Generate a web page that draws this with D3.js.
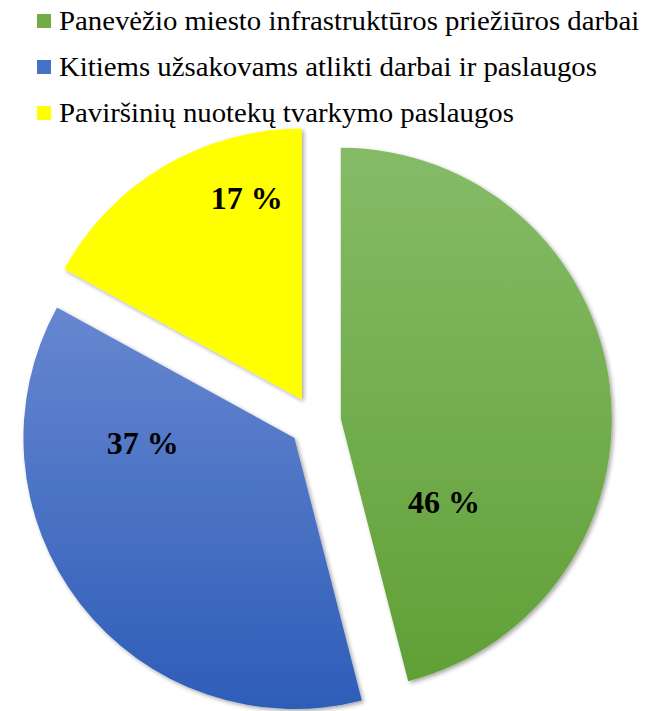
<!DOCTYPE html>
<html><head><meta charset="utf-8">
<script src="https://cdn.jsdelivr.net/npm/d3@7"></script>
<style>body{margin:0;background:#fff}svg{display:block}</style>
</head><body>
<svg id="chart" width="646" height="711"></svg>
<script>
const categories = ["Panevėžio miesto infrastruktūros priežiūros darbai", "Kitiems užsakovams atlikti darbai ir paslaugos", "Paviršinių nuotekų tvarkymo paslaugos"];
const values = [46, 37, 17];
const valueLabels = ["46 %", "37 %", "17 %"];

// styling (not data)
const gradTop = ["#85bb67", "#6787d0", "#ffff00"];
const gradBot = ["#61a036", "#2d5db8", "#ffff00"];
const legendColors = ["#70ad47", "#4472c4", "#ffff00"];
const labelPolar = [[128.9, 0.49], [268, 0.56], [344.7, 0.77]]; // label direction (deg) & radius fraction

const W = 646, H = 711;
const cx = 315, cy = 422, R = 271, explode = 26;
const svg = d3.select("#chart");
const defs = svg.append("defs");
const f = defs.append("filter").attr("id","sh").attr("x","-10%").attr("y","-10%").attr("width","130%").attr("height","130%");
f.append("feDropShadow").attr("dx",2).attr("dy",2).attr("stdDeviation",2).attr("flood-color","#000").attr("flood-opacity",0.35);
categories.forEach((c,i)=>{
  const g = defs.append("linearGradient").attr("id","g"+i).attr("x1",0).attr("y1",0).attr("x2",0).attr("y2",1);
  g.append("stop").attr("offset","0%").attr("stop-color",gradTop[i]);
  g.append("stop").attr("offset","100%").attr("stop-color",gradBot[i]);
});

const pie = d3.pie().sort(null).value(d=>d).startAngle(0).endAngle(2*Math.PI);
const arcs = pie(values);
const arc = d3.arc().innerRadius(0).outerRadius(R);

const gPie = svg.append("g").attr("transform",`translate(${cx},${cy})`);
arcs.forEach((a,i)=>{
  const mid = (a.startAngle+a.endAngle)/2;
  const ox = Math.sin(mid)*explode, oy = -Math.cos(mid)*explode;
  const sg = gPie.append("g").attr("transform",`translate(${ox},${oy})`);
  sg.append("path").attr("d",arc(a)).attr("fill",`url(#g${i})`).attr("filter","url(#sh)");
  const ang = labelPolar[i][0]*Math.PI/180, rr = labelPolar[i][1]*R;
  sg.append("text").attr("x",Math.sin(ang)*rr).attr("y",-Math.cos(ang)*rr)
    .attr("text-anchor","middle").attr("dominant-baseline","central")
    .attr("font-family","'Liberation Serif','Times New Roman',serif").attr("font-weight","bold")
    .attr("font-size",32).attr("fill","#000").text(valueLabels[i]);
});

const leg = svg.append("g");
categories.forEach((c,i)=>{
  const y = 21 + i*46;
  leg.append("rect").attr("x",37).attr("y",y-7).attr("width",14).attr("height",14).attr("fill",legendColors[i]);
  const t = leg.append("text").attr("x",59).attr("y",y).attr("dominant-baseline","central")
    .attr("font-family","'Liberation Serif','Times New Roman',serif").attr("font-size",27).attr("fill","#000").text(c);
  const w = t.node().getComputedTextLength();
  t.attr("textLength", w*1.066).attr("lengthAdjust","spacingAndGlyphs");
});
</script>
</body></html>
